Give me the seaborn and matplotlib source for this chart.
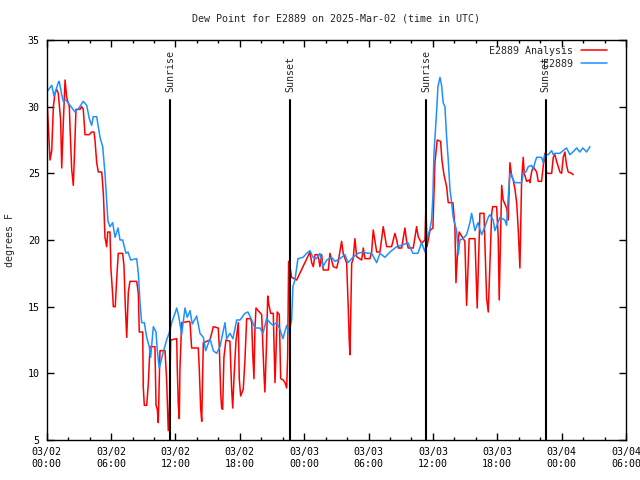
import matplotlib
matplotlib.use("Agg")
import matplotlib.pyplot as plt
import matplotlib.dates as mdates
import pandas as pd
import seaborn as sns

start = pd.Timestamp("2025-03-02 00:00")

series_names = ["E2889 Analysis", "E2889"]

# observed (blue) series: hours since 03/02 00:00 UTC, dew point in F
obs_hours = [0.00, 0.47, 0.68, 1.08, 1.17, 1.40, 1.55, 1.80, 2.17, 2.64, 3.01, 3.41, 3.73, 3.97,
             4.19, 4.34, 4.66, 4.81, 4.97, 5.22, 5.43, 5.59, 5.71, 5.90, 6.15, 6.37, 6.65, 6.83,
             7.08, 7.39, 7.58, 7.83, 8.39, 8.54, 8.70, 8.85, 9.10, 9.32, 9.56, 9.69, 9.94, 10.19,
             10.31, 10.49, 10.65, 10.87, 11.18, 11.49, 11.65, 11.96, 12.12, 12.33, 12.58, 12.89,
             13.10, 13.36, 13.57, 13.98, 14.29, 14.60, 14.82, 15.22, 15.53, 15.84, 16.15, 16.62,
             16.78, 17.08, 17.36, 17.71, 18.02, 18.48, 18.76, 19.11, 19.41, 19.88, 20.16, 20.50,
             20.81, 21.09, 21.44, 21.74, 22.02, 22.37, 22.58, 22.83, 22.95, 23.14, 23.42, 23.89,
             24.23, 24.54, 24.82, 25.16, 25.47, 25.75, 26.10, 26.56, 26.87, 27.34, 27.80, 28.08,
             28.55, 29.01, 29.48, 29.94, 30.29, 30.76, 31.06, 31.53, 32.00, 32.62, 33.09, 33.67,
             34.14, 34.60, 34.95, 35.26, 35.42, 35.72, 35.88, 36.00, 36.10, 36.35, 36.47, 36.66,
             36.81, 36.96, 37.12, 37.28, 37.43, 37.59, 37.75, 37.89, 38.21, 38.36, 38.52, 38.80,
             39.14, 39.45, 39.61, 39.92, 40.20, 40.54, 40.85, 41.16, 41.32, 41.62, 41.78, 42.25,
             42.71, 42.87, 43.02, 43.18, 43.34, 43.49, 43.65, 44.27, 44.42, 44.67, 44.89, 45.20,
             45.35, 45.51, 45.67, 46.13, 46.28, 46.44, 46.75, 47.07, 47.22, 47.37, 47.84, 48.12,
             48.46, 48.77, 49.05, 49.40, 49.70, 49.98, 50.33, 50.64]
obs_vals = [31.1, 31.6, 30.8, 31.8, 31.9, 30.9, 30.4, 30.5, 30.1, 29.6, 29.9, 30.4, 30.1, 29.1,
            28.6, 29.25, 29.25, 28.5, 27.7, 27.0, 25.0, 23.0, 21.4, 21.0, 21.3, 20.2, 20.9, 20.0,
            20.0, 19.0, 19.1, 18.5, 18.6, 17.5, 15.3, 13.8, 13.8, 12.7, 12.0, 11.2, 13.5, 13.1,
            11.7, 10.4, 10.9, 11.6, 12.5, 13.2, 13.8, 14.5, 14.9, 14.2, 12.9, 14.9,
            14.2, 14.7, 13.7, 14.3, 13.0, 12.7, 11.7, 12.6, 11.7, 11.5, 12.0, 13.8,
            12.6, 13.0, 12.6, 14.0, 14.0, 14.5, 14.6, 14.0, 13.4, 13.4, 13.0, 14.1,
            13.8, 13.6, 13.8, 13.3, 12.6, 13.6, 13.0, 14.0, 16.5, 17.0, 18.6, 18.7,
            19.0, 19.2, 18.7, 18.6, 19.0, 18.0, 18.5, 18.7, 18.4, 18.6, 18.9, 18.3,
            18.7, 19.0, 19.1, 19.0, 19.0, 18.3, 19.0, 18.7, 19.1, 19.5, 19.6, 19.8,
            19.0, 19.0, 19.8, 19.1, 20.0, 20.8, 21.5, 23.3, 26.5, 29.7, 31.5, 32.2,
            31.6, 30.3, 30.0, 27.7, 26.0, 23.8, 22.8, 21.7, 20.7, 18.9, 20.0, 20.1,
            20.4, 21.3, 22.0, 20.7, 21.3, 20.4, 21.0, 21.7, 21.9, 21.5, 20.7, 21.7,
            21.5, 21.1, 23.2, 25.0, 24.9, 24.5, 24.3, 24.3, 25.0, 25.1, 25.5, 25.6,
            25.3, 25.8, 26.2, 26.2, 25.8, 26.4, 26.4, 26.7, 26.4, 26.5, 26.5, 26.7,
            26.9, 26.4, 26.6, 26.9, 26.6, 26.9, 26.6, 27.0]

# analysis (red) series
ana_hours = [0.00, 0.15, 0.24, 0.31, 0.47, 0.62, 0.77, 0.93, 1.08, 1.30, 1.40, 1.55, 1.71, 1.86,
             2.11, 2.17, 2.33, 2.48, 2.57, 2.73, 3.10, 3.26, 3.41, 3.57, 3.97, 4.19, 4.41, 4.50,
             4.66, 4.81, 5.13, 5.28, 5.34, 5.43, 5.59, 5.69, 5.90, 5.99, 6.15, 6.21, 6.39, 6.52,
             6.67, 7.08, 7.20, 7.33, 7.46, 7.61, 7.76, 8.39, 8.54, 8.63, 8.95, 9.00, 9.10, 9.32,
             9.47, 9.63, 10.09, 10.19, 10.31, 10.40, 10.56, 11.03, 11.18, 11.33, 11.43, 11.56,
             12.12, 12.17, 12.27, 12.36, 12.42, 12.58, 13.29, 13.36, 13.51, 14.13, 14.22, 14.35,
             14.45, 14.60, 15.22, 15.53, 15.99, 16.09, 16.22, 16.31, 16.40, 16.52, 16.71, 17.08,
             17.24, 17.34, 17.46, 17.64, 17.86, 17.95, 18.08, 18.32, 18.48, 18.64, 19.01, 19.11,
             19.20, 19.32, 19.41, 19.51, 19.72, 20.04, 20.13, 20.25, 20.34, 20.50, 20.60, 20.72,
             20.88, 21.12, 21.28, 21.37, 21.49, 21.68, 21.81, 22.05, 22.21, 22.37, 22.46, 22.55,
             22.68, 22.83, 23.30, 24.54, 24.70, 24.85, 25.01, 25.29, 25.47, 25.63, 25.78, 26.25,
             26.40, 26.71, 27.03, 27.18, 27.49, 27.64, 27.96, 28.11, 28.20, 28.27, 28.36, 28.43,
             28.57, 28.73, 28.89, 29.36, 29.51, 29.67, 30.13, 30.29, 30.44, 30.60, 30.76, 31.06,
             31.37, 31.53, 31.69, 32.15, 32.46, 32.62, 32.77, 33.09, 33.39, 33.55, 33.70, 34.17,
             34.48, 34.63, 34.95, 35.26, 35.35, 35.45, 35.72, 36.00, 36.19, 36.40, 36.72, 36.84,
             37.03, 37.28, 37.43, 37.87, 38.05, 38.15, 38.36, 38.45, 38.98, 39.14, 39.38, 39.92,
             40.13, 40.38, 40.76, 41.01, 41.16, 41.48, 41.57, 41.94, 42.09, 42.18, 42.41, 42.55,
             42.87, 43.02, 43.18, 43.34, 43.49, 43.65, 43.81, 43.96, 44.11, 44.27, 44.42, 44.51,
             44.74, 44.98, 45.04, 45.20, 45.35, 45.67, 45.82, 46.13, 46.28, 46.44, 46.60, 47.07,
             47.22, 47.37, 47.53, 47.84, 48.00, 48.15, 48.30, 48.46, 48.61, 48.93, 49.08]
ana_vals = [31.0, 28.5, 27.0, 26.0, 26.7, 30.0, 31.0, 31.3, 31.0, 29.0, 25.4, 28.8, 32.0, 30.7,
            30.0, 28.5, 25.3, 24.1, 26.0, 29.8, 29.8, 30.0, 29.8, 27.9, 27.9, 28.1, 28.1, 27.5,
            25.8, 25.1, 25.1, 23.5, 22.3, 20.2, 19.5, 20.6, 20.6, 17.8, 15.9, 15.0, 15.0, 17.0,
            19.0, 19.0, 18.1, 15.0, 12.7, 16.1, 16.9, 16.9, 16.0, 13.1, 13.1, 9.0, 7.6, 7.6,
            9.2, 12.0, 12.0, 7.6, 7.3, 6.3, 11.7, 11.7, 9.5, 5.7, 7.1, 12.5,
            12.6, 10.4, 7.6, 6.6, 10.3, 13.8, 13.9, 13.8, 11.9, 11.9, 10.4, 7.4,
            6.4, 12.3, 12.5, 13.5, 13.4, 12.0, 8.5, 7.4, 7.3, 11.2, 12.5, 12.4,
            8.8, 7.4, 9.7, 12.4, 13.8, 9.6, 8.3, 8.8, 11.0, 14.1, 14.1, 13.8,
            11.6, 9.6, 13.3, 14.9, 14.7, 14.4, 12.5, 10.0, 8.6, 12.4, 15.8, 15.1,
            14.5, 14.5, 9.3, 11.4, 14.6, 14.4, 9.6, 9.5, 9.3, 8.9, 11.3, 18.4,
            18.0, 17.2, 17.0, 19.1, 18.3, 18.0, 18.9, 18.9, 18.0, 18.9, 17.75, 17.75,
            19.0, 18.0, 17.9, 18.4, 19.9, 19.0, 18.25, 14.9, 12.5, 11.4, 15.5, 18.25,
            18.6, 20.1, 18.75, 18.5, 19.4, 18.6, 18.6, 19.1, 20.75, 19.9, 19.1, 19.1,
            21.0, 20.25, 19.5, 19.5, 20.5, 20.0, 19.4, 19.4, 20.9, 19.9, 19.4, 19.4,
            21.0, 20.25, 19.75, 20.0, 22.5, 19.5, 20.7, 20.9, 25.8, 27.5, 27.4, 26.0,
            24.9, 24.0, 22.8, 22.8, 21.0, 16.8, 20.0, 20.6, 19.9, 15.1, 20.1, 20.1,
            14.9, 22.0, 22.0, 15.6, 14.6, 22.0, 22.5, 22.5, 20.2, 15.5, 24.1, 23.0,
            22.4, 21.5, 25.8, 24.8, 24.5, 23.8, 22.8, 20.7, 17.9, 24.5, 26.2, 25.0,
            24.4, 24.5, 24.3, 25.1, 25.5, 25.1, 24.4, 24.4, 25.5, 26.5, 25.0, 25.0,
            26.2, 26.4, 25.9, 25.1, 25.0, 26.2, 26.6, 25.6, 25.1, 25.0, 24.9]

sun_hours = [11.49, 22.67, 35.35, 46.53]
sun_labels = ["Sunrise", "Sunset", "Sunrise", "Sunset"]

df = pd.concat([
    pd.DataFrame({"time": start + pd.to_timedelta(ana_hours, unit="h"),
                  "dewpoint": ana_vals, "series": series_names[0]}),
    pd.DataFrame({"time": start + pd.to_timedelta(obs_hours, unit="h"),
                  "dewpoint": obs_vals, "series": series_names[1]}),
], ignore_index=True)

sns.set_style("ticks")
plt.rcParams["font.family"] = ["DejaVu Sans Mono"]
fs = 7.2

fig = plt.figure(figsize=(6.4, 4.8), dpi=100)
ax = fig.add_axes([46.7 / 640, 1 - 440 / 480, 579.3 / 640, 400 / 480])

sns.lineplot(data=df, x="time", y="dewpoint", hue="series", hue_order=series_names,
             palette={series_names[0]: "#ff0000", series_names[1]: "#1e90ff"},
             estimator=None, sort=False, linewidth=1.1, ax=ax)

for h, lab in zip(sun_hours, sun_labels):
    t = start + pd.Timedelta(hours=h)
    ax.axvline(t, ymin=0, ymax=(30.5 - 5) / 30, color="black", linewidth=1.5)
    ax.text(t, 31.1, lab, rotation=90, ha="center", va="bottom", fontsize=fs)

ax.set_xlim(start, start + pd.Timedelta(hours=54))
ax.set_ylim(5, 35)
ax.set_yticks(range(5, 36, 5))
ax.xaxis.set_major_locator(mdates.HourLocator(byhour=[0, 6, 12, 18]))
ax.xaxis.set_major_formatter(mdates.DateFormatter("%m/%d\n%H:%M"))
ax.xaxis.set_minor_locator(mdates.HourLocator(byhour=range(0, 24, 2)))
ax.tick_params(which="both", direction="in", top=True, right=True, colors="black",
               labelsize=fs, width=1)
ax.tick_params(which="major", length=5, pad=5)
ax.tick_params(which="minor", length=2.5)
for s in ax.spines.values():
    s.set_linewidth(1)
    s.set_color("black")

ax.set_xlabel("")
ax.set_ylabel("degrees F", fontsize=fs, labelpad=9)
ax.set_title("Dew Point for E2889 on 2025-Mar-02 (time in UTC)", fontsize=fs, pad=13)

handles, labels = ax.get_legend_handles_labels()
ax.legend(handles, labels, loc="upper right", bbox_to_anchor=(1 - 12 / 579.3, 1 + 1 / 400),
          markerfirst=False, frameon=False, fontsize=fs, handlelength=2.6,
          labelspacing=0.3, borderaxespad=0.3, handletextpad=0.8)

fig.savefig("out.png", dpi=100)
